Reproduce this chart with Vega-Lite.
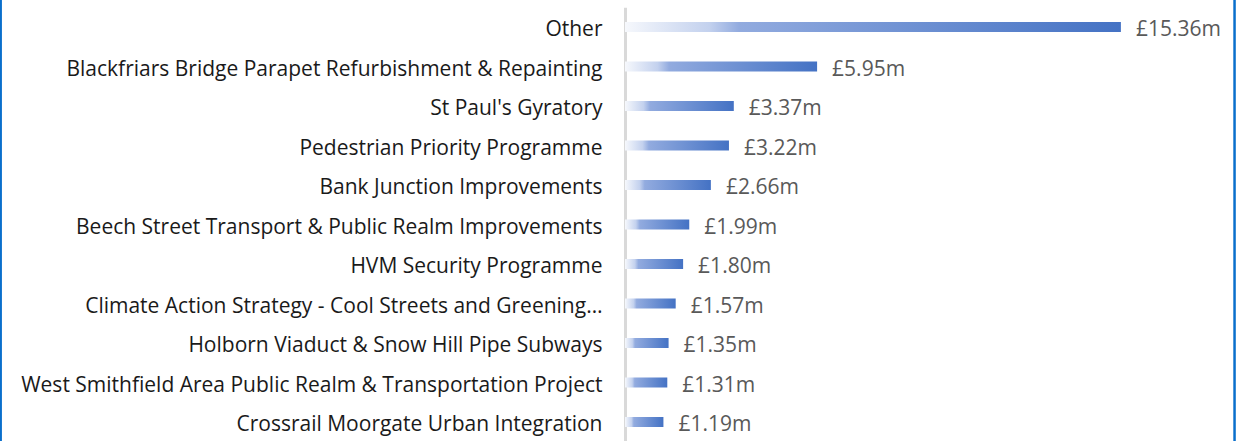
{
  "$schema": "https://vega.github.io/schema/vega-lite/v6.json",
  "width": 616,
  "height": 441,
  "autosize": {"type": "none"},
  "padding": {"left": 625, "top": 0, "right": 0, "bottom": 0},
  "background": "#ffffff",
  "config": {
    "view": {"stroke": null},
    "locale": {"number": {"decimal": ".", "thousands": ",", "grouping": [3], "currency": ["£", "m"]}},
    "font": "Open Sans"
  },
  "datasets": {
    "projects": [
      {"project": "Other", "value": 15.36},
      {"project": "Blackfriars Bridge Parapet Refurbishment & Repainting", "value": 5.95},
      {"project": "St Paul's Gyratory", "value": 3.37},
      {"project": "Pedestrian Priority Programme", "value": 3.22},
      {"project": "Bank Junction Improvements", "value": 2.66},
      {"project": "Beech Street Transport & Public Realm Improvements", "value": 1.99},
      {"project": "HVM Security Programme", "value": 1.80},
      {"project": "Climate Action Strategy - Cool Streets and Greening…", "value": 1.57},
      {"project": "Holborn Viaduct & Snow Hill Pipe Subways", "value": 1.35},
      {"project": "West Smithfield Area Public Realm & Transportation Project", "value": 1.31},
      {"project": "Crossrail Moorgate Urban Integration", "value": 1.19}
    ],
    "borders": [
      {"edge": -19.33, "w": 2},
      {"edge": 18.88, "w": 2.5}
    ]
  },
  "data": {"name": "projects"},
  "encoding": {
    "y": {
      "field": "project",
      "type": "nominal",
      "sort": null,
      "scale": {"range": [7.25, 441.75], "paddingInner": 0, "paddingOuter": 0},
      "axis": {
        "title": null,
        "domainColor": "#d9d9d9",
        "domainWidth": 3,
        "ticks": false,
        "labelPadding": 23,
        "labelOffset": 3,
        "labelFontSize": 21,
        "labelColor": "#1a1a1a",
        "labelLimit": 800,
        "labelFont": "Open Sans"
      }
    }
  },
  "layer": [
    {
      "mark": {
        "type": "bar",
        "size": 10,
        "fill": {
          "gradient": "linear",
          "x1": 0, "x2": 1, "y1": 0, "y2": 0,
          "stops": [
            {"offset": 0, "color": "#f6f8fc"},
            {"offset": 0.17, "color": "#c3d1ee"},
            {"offset": 0.23, "color": "#92abdf"},
            {"offset": 1, "color": "#4472c4"}
          ]
        }
      },
      "encoding": {
        "x": {
          "field": "value",
          "type": "quantitative",
          "scale": {"domain": [0, 19.08], "nice": false, "zero": true},
          "axis": null
        }
      }
    },
    {
      "mark": {"type": "text", "align": "left", "baseline": "middle", "dx": 15, "dy": 3, "fontSize": 21, "color": "#595959", "font": "Open Sans"},
      "encoding": {
        "x": {"field": "value", "type": "quantitative"},
        "text": {"field": "value", "type": "quantitative", "format": "$.2f"}
      }
    },
    {
      "data": {"name": "borders"},
      "mark": {"type": "rule", "color": "#0a6fcc"},
      "encoding": {
        "y": null,
        "x": {"field": "edge", "type": "quantitative"},
        "strokeWidth": {"field": "w", "type": "quantitative", "scale": null, "legend": null}
      }
    }
  ]
}
